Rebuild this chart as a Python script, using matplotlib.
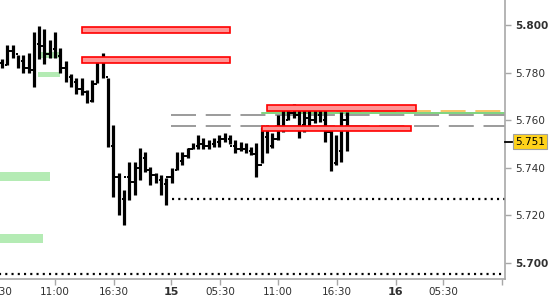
import matplotlib
matplotlib.use("Agg")
import matplotlib.pyplot as plt
from matplotlib.patches import Rectangle
import matplotlib.transforms as mtransforms

plt.rcParams['lines.scale_dashes'] = False

# OHLC bars (30 min)
highs = [5.7857, 5.7916, 5.7916, 5.7874, 5.7874, 5.7882, 5.7971, 5.7996, 5.7983, 5.7937,
         5.7971, 5.7903, 5.7849, 5.7794, 5.7777, 5.7777, 5.7727, 5.7769, 5.7857, 5.7882,
         5.7777, 5.7580, 5.7378, 5.7307, 5.7424, 5.7424, 5.7483, 5.7466, 5.7403, 5.7378,
         5.7370, 5.7357, 5.7399, 5.7466, 5.7466, 5.7483, 5.7504, 5.7538, 5.7525, 5.7517,
         5.7525, 5.7538, 5.7546, 5.7538, 5.7517, 5.7508, 5.7504, 5.7487, 5.7504, 5.7571,
         5.7580, 5.7546, 5.7622, 5.7643, 5.7651, 5.7668, 5.7664, 5.7643, 5.7655, 5.7643,
         5.7655, 5.7655, 5.7559, 5.7538, 5.7634, 5.7634]
lows = [5.7819, 5.7832, 5.7861, 5.7819, 5.7798, 5.7798, 5.7739, 5.7857, 5.7836, 5.7861,
        5.7861, 5.7798, 5.7761, 5.7739, 5.7710, 5.7706, 5.7672, 5.7676, 5.7756, 5.7777,
        5.7487, 5.7277, 5.7202, 5.7160, 5.7265, 5.7286, 5.7349, 5.7382, 5.7328, 5.7336,
        5.7286, 5.7244, 5.7336, 5.7391, 5.7412, 5.7441, 5.7479, 5.7479, 5.7479, 5.7479,
        5.7487, 5.7487, 5.7508, 5.7500, 5.7462, 5.7471, 5.7462, 5.7454, 5.7361, 5.7420,
        5.7462, 5.7483, 5.7517, 5.7550, 5.7601, 5.7609, 5.7525, 5.7550, 5.7571, 5.7588,
        5.7592, 5.7508, 5.7387, 5.7412, 5.7424, 5.7471]
closes = [5.783, 5.789, 5.788, 5.785, 5.782, 5.781, 5.792, 5.791, 5.788, 5.790,
          5.787, 5.782, 5.778, 5.776, 5.773, 5.772, 5.768, 5.775, 5.785, 5.778,
          5.749, 5.736, 5.727, 5.736, 5.734, 5.740, 5.744, 5.739, 5.737, 5.735,
          5.733, 5.736, 5.739, 5.743, 5.745, 5.748, 5.749, 5.750, 5.749, 5.750,
          5.751, 5.752, 5.752, 5.749, 5.748, 5.748, 5.747, 5.746, 5.741, 5.753,
          5.749, 5.752, 5.757, 5.760, 5.763, 5.762, 5.758, 5.761, 5.760, 5.762,
          5.760, 5.755, 5.742, 5.747, 5.760, 5.751]
opens = [5.784] + closes[:-1]

last_price = 5.751

# zones: (x0, x1, low, high)
red_zones = [(15.1, 43.0, 5.7966, 5.7992), (15.1, 43.0, 5.7840, 5.7866),
             (50.0, 78.1, 5.7639, 5.7664), (49.1, 77.2, 5.7555, 5.7576)]
green_zones = [(6.8, 10.9, 5.7861, 5.7887), (6.8, 10.9, 5.7782, 5.7803),
               (-0.5, 9.1, 5.7345, 5.7382), (-0.5, 7.7, 5.7084, 5.7122)]

# levels: (start, price)
gray_levels = [(31.9, 5.7622), (31.9, 5.7576)]
green_level = (49.1, 5.7630)
orange_level = (50.0, 5.7639)
dotted_levels = [(32.1, 5.7269), (-0.5, 5.6954)]

tick_pos = [10.0, 21.1, 31.9, 41.1, 52.1, 63.2, 74.3, 83.2, 94.3]
tick_lab = ["11:00", "16:30", "15", "05:30", "11:00", "16:30", "16", "05:30", ""]
bold_labels = {"15", "16"}
y_ticks = [5.700, 5.720, 5.740, 5.760, 5.780, 5.800]

xmin, xmax = -0.38, 94.9
ymin, ymax = 5.69328, 5.8105

fig = plt.figure(figsize=(5.5, 3.0), dpi=100)
ax = fig.add_axes([0, 21 / 300, 505 / 550, 279 / 300])
ax.set_xlim(xmin, xmax)
ax.set_ylim(ymin, ymax)

for x0, x1, lo, hi in green_zones:
    ax.add_patch(Rectangle((x0, lo), x1 - x0, hi - lo, facecolor="#b4ebb4",
                           edgecolor="none", zorder=1))

idx = list(range(len(highs)))
ax.vlines(idx, lows, highs, color="black", linewidth=2.3, zorder=3)
ax.hlines(opens, [i - 0.45 for i in idx], idx, color="black", linewidth=1.4, zorder=3)
ax.hlines(closes, idx, [i + 0.45 for i in idx], color="black", linewidth=1.4, zorder=3)

for x0, x1, lo, hi in red_zones:
    ax.add_patch(Rectangle((x0, lo), x1 - x0, hi - lo, facecolor="#ff9494",
                           edgecolor="#ff0000", linewidth=1.2, zorder=4))

for start, p in gray_levels:
    ax.plot([start, xmax], [p, p], color="#808080", linewidth=1.1,
            dashes=(18, 7), zorder=2)
ax.plot([green_level[0], xmax], [green_level[1]] * 2, color="#5cc85c",
        linewidth=1.1, zorder=2)
ax.plot([orange_level[0], xmax], [orange_level[1]] * 2, color="#f5b53c",
        linewidth=1.1, dashes=(18, 7), zorder=2)
for start, p in dotted_levels:
    ax.plot([start, xmax], [p, p], color="black", linewidth=1.6,
            dashes=(1.5, 3.0), zorder=2)

for s in ["top", "left"]:
    ax.spines[s].set_visible(False)
for s in ["right", "bottom"]:
    ax.spines[s].set_color("#a8a8a8")
    ax.spines[s].set_linewidth(1.2)

ax.yaxis.tick_right()
ax.set_yticks(y_ticks)
ax.set_yticklabels([f"{v:.3f}" for v in y_ticks])
ax.tick_params(axis="y", direction="out", length=4, width=1, color="#a8a8a8",
               labelsize=7.6, labelcolor="#303030", pad=3)
for lab in ax.get_yticklabels():
    if lab.get_text() in ("5.800", "5.700"):
        lab.set_fontweight("bold")

ax.set_xticks(tick_pos)
ax.set_xticklabels(tick_lab)
ax.tick_params(axis="x", direction="out", length=4, width=1, color="#a8a8a8",
               labelsize=7.5, labelcolor="#303030", pad=2)
for lab in ax.get_xticklabels():
    if lab.get_text() in bold_labels:
        lab.set_fontweight("bold")
        lab.set_fontsize(8)

# partly hidden first label
trans_x = mtransforms.blended_transform_factory(ax.transData, ax.transAxes)
ax.annotate("05:30", xy=(-0.9, 0), xycoords=trans_x, xytext=(0, -6),
            textcoords="offset points", ha="center", va="top",
            fontsize=7.5, color="#303030", annotation_clip=False)

# last price marker
trans_y = mtransforms.blended_transform_factory(ax.transAxes, ax.transData)
ax.plot([1.0, 1.014], [last_price, last_price], transform=trans_y,
        color="black", linewidth=1.3, clip_on=False, zorder=5)
ax.text(1.020, last_price, f"{last_price:.3f}", transform=trans_y, ha="left",
        va="center", fontsize=7.6, color="black", clip_on=False,
        bbox=dict(boxstyle="square,pad=0.22", facecolor="#ffd21a",
                  edgecolor="#a0a0a0", linewidth=0.8))

fig.savefig("out.png", dpi=100)
